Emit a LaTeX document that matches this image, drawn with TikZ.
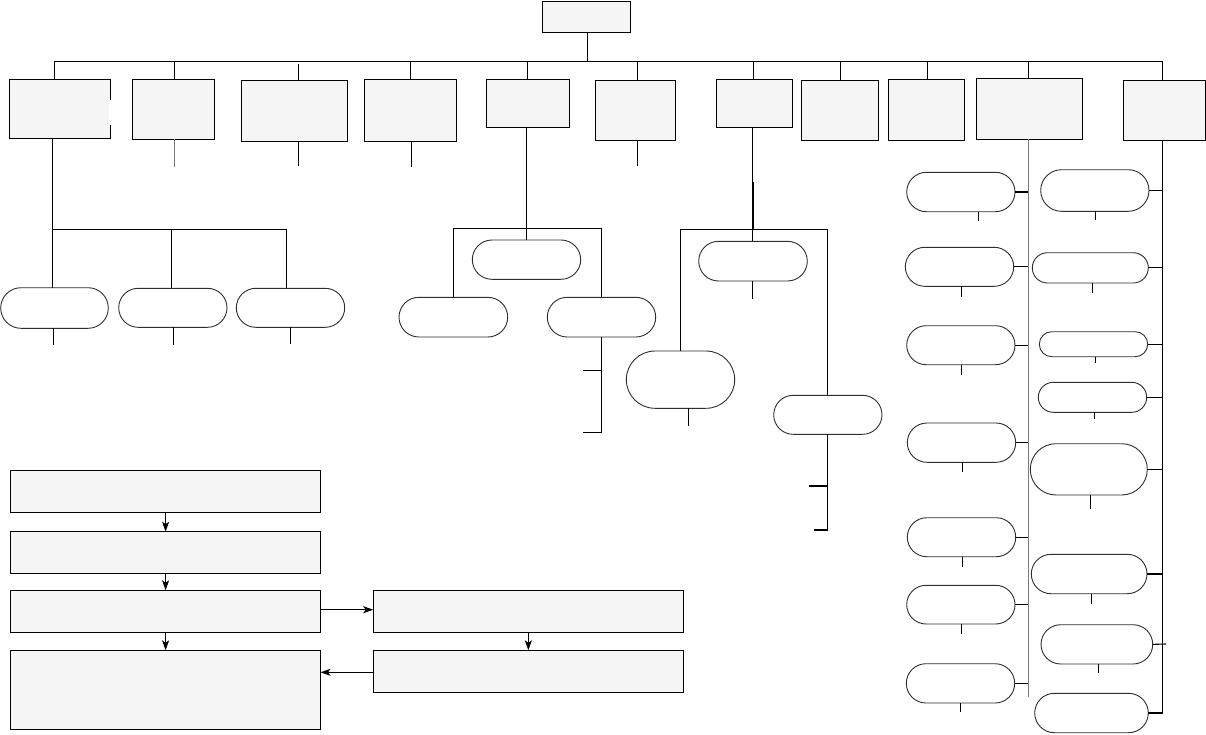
\documentclass[tikz,border=0pt]{standalone}
\usetikzlibrary{shapes.misc,arrows.meta}
\definecolor{boxfill}{HTML}{F5F5F5}
\definecolor{pillline}{HTML}{2E2E2E}
\definecolor{grayline}{HTML}{7A7A7A}
\tikzset{
  sqbox/.style={draw=black,line width=1.2pt,fill=boxfill,inner sep=0pt,outer sep=0pt,rectangle},
  pillbox/.style={draw=pillline,line width=0.9pt,fill=white,inner sep=0pt,outer sep=0pt,rounded rectangle},
  conn/.style={draw=black,line width=1.1pt},
  gconn/.style={draw=grayline,line width=1.1pt},
  arr/.style={conn,-{Stealth[length=10pt,width=7pt,inset=2.5pt]}}
}
\newcommand\sqb[5]{\node[sqbox,minimum width={#4-#2},minimum height={#5-#3}] (#1) at ({(#2+#4)/2},{(#3+#5)/2}) {};}
\newcommand\pil[5]{\node[pillbox,minimum width={#4-#2},minimum height={#5-#3}] (#1) at ({(#2+#4)/2},{(#3+#5)/2}) {};}
% stub below a node: node, x, end y
\newcommand\stub[3]{\coordinate (s-#1) at (#2,#3); \draw[conn] (s-#1 |- #1.south) -- (s-#1);}
% drop from a bar into a node's top: name, node, x, y
\newcommand\drop[4]{\coordinate (#1) at (#3,#4); \draw[conn] (#1) -- (#1 |- #2.north);}
\begin{document}
\begin{tikzpicture}[x=1pt,y=-1pt]
\useasboundingbox (0,0) rectangle (1206,734);

% ---- top level ----
\node[sqbox,line width=1pt,minimum width=87.7,minimum height=31.3] (top) at (586.35,16.65) {};
\sqb{b1}{9.5}{79.3}{110.7}{138.3}
\draw[white,line width=2.5pt] (b1.east |- 0,100) -- (b1.east |- 0,125);
\sqb{b2}{132.5}{79.3}{214.7}{139.3}
\sqb{b3}{241.2}{80.3}{347.6}{141.3}
\sqb{b4}{364.6}{79.3}{456.7}{141.3}
\sqb{b5}{486.4}{79.3}{569.8}{127.3}
\sqb{b6}{595.5}{80.3}{675.4}{140.3}
\sqb{b7}{716.4}{79.3}{792.5}{127.3}
\sqb{b8}{801.4}{80.3}{878.7}{140.3}
\sqb{b9}{888.4}{79.3}{964.5}{140.3}
\sqb{b10}{976.5}{78.3}{1082.8}{139.3}
\sqb{b11}{1123.4}{80.3}{1205.3}{140.3}

\coordinate (barL) at (54.6,61.3);
\coordinate (barR) at (1162.4,61.3);
\draw[conn] (top.south -| 587.6,0) -- (barL -| 587.6,0);
\draw[conn] (barL) -- (barR);
\drop{d1}{b1}{54.6}{61.3}
\drop{d2}{b2}{174.4}{61.3}
\drop{d3}{b3}{298.5}{64}
\drop{d4}{b4}{410.4}{61.3}
\drop{d5}{b5}{527.5}{61.3}
\drop{d6}{b6}{637.5}{61.3}
\drop{d7}{b7}{753.5}{61.3}
\drop{d8}{b8}{840.8}{61.3}
\drop{d9}{b9}{927.8}{61.3}
\drop{d10}{b10}{1028.3}{61.3}
\drop{d11}{b11}{1162.4}{61.3}

% short lines below boxes
\coordinate (e2) at (174.4,166.7); \draw[gconn] (e2 |- b2.south) -- (e2);
\coordinate (e3) at (298.5,165.7); \draw[conn] (e3 |- b3.south) -- (e3);
\coordinate (e4) at (411.2,166.7); \draw[conn] (e4 |- b4.south) -- (e4);
\coordinate (e6) at (637.5,165.7); \draw[conn] (e6 |- b6.south) -- (e6);

% ---- branch of b1 ----
\pil{p1}{0.7}{287.7}{108.3}{328.3}
\pil{p2}{118.7}{288.3}{227}{327.3}
\pil{p3}{236.3}{288.3}{344.7}{327.3}
\coordinate (e1) at (52.7,229.3);
\draw[conn] (e1 |- b1.south) -- (e1 |- p1.north);
\draw[conn] (e1) -- (e1 -| 286.3,0);
\drop{f2}{p2}{171.3}{229.3}
\drop{f3}{p3}{286.3}{229.3}
\stub{p1}{53.3}{344.7}
\stub{p2}{173.3}{344.7}
\stub{p3}{290.3}{343.7}

% ---- branch of b5 ----
\pil{pA}{472.3}{240}{580.7}{279.3}
\pil{pB}{399}{297.3}{507.7}{337}
\pil{pC}{547.3}{297.3}{655.7}{337}
\coordinate (e5) at (526.3,228.3);
\draw[conn] (e5 |- b5.south) -- (e5 |- pA.north);
\coordinate (g5L) at (453.7,228.3);
\coordinate (g5R) at (601.3,228.3);
\draw[conn] (g5L |- pB.north) -- (g5L) -- (g5R) -- (g5R |- pC.north);
\coordinate (cC1) at (601.3,432.3);
\draw[conn] (cC1 |- pC.south) -- (cC1) -- ++(-18.3,0);
\coordinate (cC2) at (601.3,370.3);
\draw[conn] (cC2) -- ++(-18.3,0);

% ---- branch of b7 ----
\pil{pD}{698.7}{241.3}{807.3}{281}
\pil{pE}{626.3}{351}{734.7}{408.3}
\pil{pF}{773.7}{395.3}{882}{434.3}
\coordinate (e7) at (752.5,229.3);
\draw[conn,line width=1pt] (e7 |- b7.south) -- (e7 |- pD.north);
\draw[conn,line width=2pt] (752.5,181.7) -- (e7);
\coordinate (g7L) at (680.7,229.3);
\coordinate (g7R) at (827.7,229.3);
\draw[conn] (g7L |- pE.north) -- (g7L) -- (g7R) -- (g7R |- pF.north);
\stub{pD}{752.7}{299.3}
\stub{pE}{688.3}{425.7}
\coordinate (cF1) at (827.3,530);
\draw[conn] (cF1 |- pF.south) -- (cF1) -- ++(-13.3,0);
\coordinate (cF2) at (827.3,486);
\draw[conn] (cF2) -- ++(-18.3,0);

% ---- branch of b10 (left column) ----
\coordinate (vL) at (1028.3,696.7);
\draw[gconn] (vL |- b10.south) -- (vL);
\pil{L1}{906.7}{172.3}{1015}{211.7}
\pil{L2}{905.3}{247.3}{1013.7}{286.3}
\pil{L3}{906.7}{325.7}{1015}{364.7}
\pil{L4}{907.3}{423}{1015.7}{462.3}
\pil{L5}{907.3}{517.7}{1015.7}{556.7}
\pil{L6}{906.7}{585.3}{1015}{624}
\pil{L7}{906.3}{663.7}{1014.7}{703}
\foreach \n in {L1,L2,L3,L4,L5,L6,L7}{\draw[conn] (\n.east) -- (\n.east -| vL);}
\stub{L1}{978.3}{220.7}
\stub{L2}{961.3}{296.7}
\stub{L3}{961.3}{374.7}
\stub{L4}{962.3}{471.7}
\stub{L5}{962.3}{566.7}
\stub{L6}{961.3}{633.7}
\stub{L7}{960.3}{711.7}

% ---- branch of b11 (right column) ----
\coordinate (vR) at (1162.7,713.3);
\pil{R1}{1040.7}{169.7}{1149}{211.3}
\pil{R2}{1032.3}{252.7}{1148.3}{283}
\pil{R3}{1039.3}{331.7}{1147.7}{356.7}
\pil{R4}{1038.3}{382.3}{1146.7}{412.3}
\pil{R5}{1030.3}{443.7}{1147.3}{495}
\pil{R6}{1031.3}{554.3}{1147}{593.7}
\pil{R7}{1041}{624.7}{1152.7}{664}
\pil{R8}{1034.7}{693.3}{1148.3}{732.7}
\draw[conn] (vR |- b11.south) -- (vR);
\foreach \n in {R1,R2,R3,R4,R5,R6,R8}{\draw[conn] (\n.east) -- (\n.east -| vR);}
\coordinate (r7end) at (1166,644);
\draw[conn] (R7.east) -- (r7end);
\stub{R1}{1095.3}{220}
\stub{R2}{1092.3}{292.7}
\stub{R3}{1095.3}{362.7}
\stub{R4}{1094.3}{418.7}
\stub{R5}{1090.3}{508.7}
\stub{R6}{1091.3}{603.7}
\stub{R7}{1098.3}{672.7}

% ---- flow chart ----
\sqb{B1}{10.7}{470.3}{320.5}{512.3}
\sqb{B2}{10.7}{531.7}{320.5}{573.3}
\sqb{B3}{10.7}{590.3}{320.5}{632.3}
\sqb{B4}{10.7}{650.3}{320.5}{729.3}
\sqb{B5}{373.2}{590.3}{683.5}{632.3}
\sqb{B6}{373.2}{650.3}{683.5}{692.3}
\draw[arr] (B1.south) -- (B2.north);
\draw[arr] (B2.south) -- (B3.north);
\draw[arr] (B3.south) -- (B4.north);
\draw[arr] (B3.east |- 0,609.7) -- (B5.west |- 0,609.7);
\draw[arr] (B5.south) -- (B6.north);
\draw[arr] (B6.west |- 0,672.3) -- (B4.east |- 0,672.3);
\end{tikzpicture}
\end{document}
